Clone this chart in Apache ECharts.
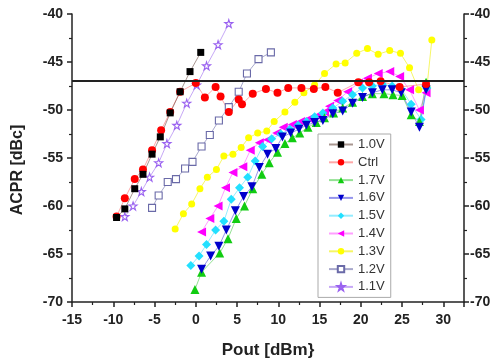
<!DOCTYPE html>
<html>
<head>
<meta charset="utf-8">
<script src="https://cdn.jsdelivr.net/npm/echarts@6/dist/echarts.min.js"></script>
<style>
  html, body { margin: 0; padding: 0; background: #fff; }
  #chart { width: 502px; height: 364px; }
</style>
</head>
<body>
<div id="chart"></div>
<script>
// Pout [dBm] / ACPR [dBc] pairs
const x10 = [-9.6, -8.6, -7.4, -6.4, -5.3, -4.3, -3.1, -1.9, -0.7, 0.6]
const y10 = [-61.2, -60.3, -58.2, -56.7, -54.6, -52.8, -50.3, -48.1, -46.0, -44.0]

const xCtrl = [-9.6, -8.6, -7.4, -6.4, -5.3, -4.2, -3.1, -1.9, 0.0, 1.1, 2.4, 3.0, 4.0, 5.2, 5.6, 6.9, 8.5, 9.9, 11.2, 12.8, 14.3, 15.7, 17.2, 19.7, 21.0, 22.4, 24.7, 27.9]
const yCtrl = [-61.1, -59.2, -57.2, -56.2, -54.2, -52.1, -50.2, -48.1, -47.2, -48.7, -47.6, -48.6, -50.2, -48.9, -49.4, -48.3, -47.8, -48.2, -47.7, -47.7, -47.8, -47.6, -48.2, -47.1, -47.1, -47.0, -47.6, -47.3]

const x17 = [-0.1, 0.7, 2.9, 3.9, 4.9, 5.9, 6.9, 8.0, 8.9, 9.9, 10.8, 11.7, 12.6, 13.6, 14.6, 15.6, 16.7, 17.8, 19.0, 20.2, 21.4, 22.8, 23.9, 25.0, 26.1, 27.1, 27.9]
const y17 = [-68.7, -66.9, -64.9, -63.4, -61.3, -60.0, -58.2, -56.7, -55.5, -54.4, -53.5, -52.9, -52.4, -51.8, -51.3, -50.8, -50.3, -49.8, -49.2, -48.6, -48.3, -48.3, -48.4, -48.5, -50.5, -51.2, -47.1]

const x16 = [0.7, 1.8, 2.8, 3.7, 4.8, 5.8, 6.8, 7.7, 8.7, 9.7, 10.5, 11.5, 12.5, 13.4, 14.4, 15.4, 16.6, 17.8, 19.0, 20.2, 21.4, 22.6, 23.8, 24.9, 26.1, 27.1, 27.9]
const y16 = [-66.6, -65.2, -64.2, -62.5, -60.5, -59.0, -58.0, -56.0, -54.6, -54.0, -52.8, -52.4, -52.0, -51.6, -51.3, -51.1, -50.4, -50.1, -49.3, -48.7, -48.2, -47.9, -47.9, -48.2, -50.2, -51.8, -47.9]

const x15 = [-0.6, 0.4, 1.3, 2.4, 3.4, 4.3, 5.3, 6.3, 7.2, 8.1, 9.2, 10.3, 11.4, 12.4, 13.4, 14.4, 15.4, 16.6, 17.8, 19.0, 20.2, 21.4, 22.6, 23.8, 24.9, 26.1, 27.3, 28.0]
const y15 = [-66.2, -65.2, -64.0, -62.5, -61.6, -59.3, -58.1, -57.0, -55.3, -53.8, -53.0, -52.5, -52.0, -51.6, -51.2, -50.7, -50.3, -49.8, -49.1, -48.4, -47.7, -47.5, -47.3, -47.5, -47.8, -49.4, -51.0, -47.7]

const x14 = [0.7, 1.7, 2.7, 3.6, 4.5, 5.7, 6.6, 7.7, 8.7, 9.8, 10.6, 11.7, 12.7, 13.7, 14.7, 15.6, 16.2, 17.2, 18.4, 19.7, 20.8, 22.1, 23.5, 24.7, 25.9, 27.1, 27.9]
const y14 = [-62.7, -61.3, -60.0, -58.1, -56.5, -55.9, -54.2, -53.4, -53.1, -52.4, -51.8, -51.5, -51.2, -50.9, -50.6, -50.2, -49.6, -49.0, -48.1, -47.2, -46.7, -46.2, -46.0, -46.5, -47.9, -50.0, -48.2]

const x13 = [-2.5, -1.5, -0.5, 0.5, 1.4, 2.5, 3.4, 4.5, 5.5, 6.4, 7.5, 8.6, 9.5, 10.8, 12.0, 13.1, 14.4, 15.6, 17.0, 18.1, 19.5, 20.8, 22.1, 23.5, 24.8, 25.9, 27.0, 28.0, 28.6]
const y13 = [-62.4, -60.8, -59.8, -58.2, -57.0, -56.2, -54.8, -54.6, -53.9, -52.9, -52.4, -52.2, -51.2, -50.2, -49.2, -48.2, -47.4, -46.2, -45.2, -45.1, -44.1, -43.6, -44.2, -43.8, -44.1, -45.6, -47.9, -47.7, -42.7]

const x12 = [-5.3, -4.5, -3.4, -2.4, -1.3, -0.4, 0.7, 1.7, 2.8, 4.0, 5.2, 6.2, 7.6, 9.1]
const y12 = [-60.2, -58.9, -57.5, -57.2, -56.1, -55.4, -53.8, -52.6, -51.1, -49.7, -48.1, -46.2, -44.7, -44.0]

const x11 = [-8.6, -7.6, -6.6, -5.6, -4.5, -3.5, -2.3, -1.1, 0.1, 1.3, 2.7, 4.0]
const y11 = [-61.1, -60.0, -58.5, -57.0, -55.5, -53.5, -51.6, -49.3, -47.4, -45.4, -43.2, -41.0]

const SPEC_LIMIT = -47
const X_TICKS = [-15, -10, -5, 0, 5, 10, 15, 20, 25, 30]

const STAR = 'path://M50,2 L61,36 L97,36 L68,57 L79,92 L50,71 L21,92 L32,57 L3,36 L39,36 Z'

const pairs = (xs, ys) => xs.map((x, i) => [x, ys[i]])

function mkSeries(name, xs, ys, color, lineColor, symbol, size, opts = {}) {
  return {
    name,
    type: 'line',
    data: pairs(xs, ys),
    symbol,
    symbolSize: size,
    symbolRotate: opts.rotate || 0,
    showAllSymbol: true,
    lineStyle: { width: 1, color: lineColor },
    itemStyle: opts.hollow
      ? { color: '#fff', borderColor: color, borderWidth: 1.1 }
      : { color, borderWidth: 0 },
    emphasis: { disabled: true },
    animation: false,
    ...(opts.extra || {}),
  }
}

const axisFont = { fontFamily: 'Liberation Sans', fontWeight: 'bold', fontSize: 14, color: '#222' }
const tickStyle = { color: '#222', width: 1.5 }

const chart = echarts.init(document.getElementById('chart'))
chart.setOption({
  animation: false,
  grid: { left: 72, right: 38, top: 14, bottom: 61 },
  legend: {
    orient: 'vertical',
    left: 318,
    top: 134,
    padding: [4, 6, 4, 10],
    backgroundColor: '#fff',
    borderColor: '#aaa',
    borderWidth: 1,
    itemWidth: 24,
    itemHeight: 8,
    itemGap: 4.8,
    textStyle: { fontFamily: 'Liberation Sans', fontSize: 13, color: '#333', lineHeight: 13 },
    data: ['1.0V', 'Ctrl', '1.7V', '1.6V', '1.5V', '1.4V', '1.3V', '1.2V', '1.1V'],
  },
  xAxis: {
    type: 'value',
    min: -15,
    max: 32.5,
    interval: 5,
    name: 'Pout [dBm}',
    nameLocation: 'middle',
    nameGap: 40,
    nameTextStyle: { fontFamily: 'Liberation Sans', fontWeight: 'bold', fontSize: 17, color: '#222' },
    axisLine: { onZero: false, lineStyle: tickStyle },
    axisTick: { inside: false, length: 5, lineStyle: tickStyle },
    minorTick: { show: true, splitNumber: 2, length: 3, lineStyle: { color: '#222', width: 1.2 } },
    axisLabel: {
      ...axisFont,
      margin: 11,
      formatter: v => (X_TICKS.includes(v) ? String(v) : ''),
    },
    splitLine: { show: false },
  },
  yAxis: [
    {
      type: 'value',
      min: -70,
      max: -40,
      interval: 5,
      name: 'ACPR [dBc]',
      nameLocation: 'middle',
      nameGap: 46,
      nameTextStyle: { fontFamily: 'Liberation Sans', fontWeight: 'bold', fontSize: 16, color: '#222', padding: [0, 0, 0, -24] },
      axisLine: { show: true, onZero: false, lineStyle: tickStyle },
      axisTick: { inside: false, length: 5, lineStyle: tickStyle },
      minorTick: { show: true, splitNumber: 2, length: 3, lineStyle: { color: '#222', width: 1.2 } },
      axisLabel: { ...axisFont, margin: 9 },
      splitLine: { show: false },
    },
    {
      type: 'value',
      position: 'right',
      min: -70,
      max: -40,
      interval: 5,
      axisLine: { show: true, onZero: false, lineStyle: tickStyle },
      axisTick: { inside: false, length: 5, lineStyle: tickStyle },
      minorTick: { show: true, splitNumber: 2, length: 3, lineStyle: { color: '#222', width: 1.2 } },
      axisLabel: { ...axisFont, margin: 6 },
      splitLine: { show: false },
    },
  ],
  series: [
    mkSeries('1.3V', x13, y13, '#ffff00', 'rgba(240,240,0,0.6)', 'circle', 7),
    mkSeries('1.2V', x12, y12, '#6a6aa8', 'rgba(110,110,170,0.6)', 'rect', 7, { hollow: true }),
    mkSeries('1.1V', x11, y11, '#9a62f0', 'rgba(160,110,240,0.6)', STAR, 8, { hollow: true }),
    mkSeries('1.4V', x14, y14, '#ff00ff', 'rgba(255,80,255,0.55)', 'triangle', 9, { rotate: 90 }),
    mkSeries('1.5V', x15, y15, '#22e0ff', 'rgba(60,220,255,0.55)', 'diamond', 9),
    mkSeries('1.7V', x17, y17, '#11cc11', 'rgba(60,200,60,0.55)', 'triangle', 9),
    mkSeries('1.6V', x16, y16, '#0000cc', 'rgba(60,60,220,0.55)', 'triangle', 9, { rotate: 180 }),
    mkSeries('Ctrl', xCtrl, yCtrl, '#ff0000', 'rgba(255,110,110,0.6)', 'circle', 8),
    mkSeries('1.0V', x10, y10, '#000000', 'rgba(110,80,70,0.6)', 'rect', 7, {
      extra: {
        markLine: {
          silent: true,
          symbol: 'none',
          label: { show: false },
          lineStyle: { color: '#222', width: 2, type: 'solid' },
          data: [{ yAxis: SPEC_LIMIT }],
        },
      },
    }),
  ],
})
</script>
</body>
</html>
